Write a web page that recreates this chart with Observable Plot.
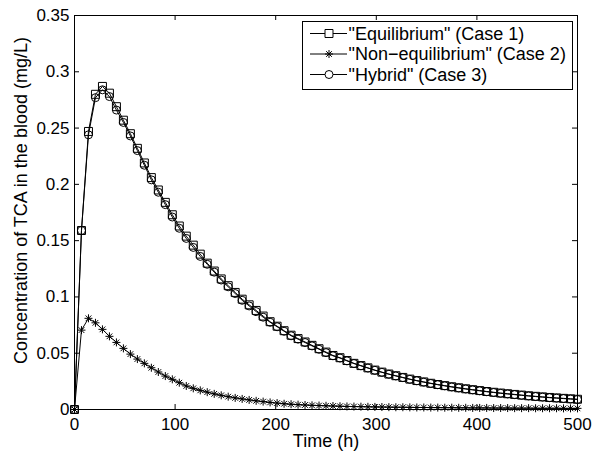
<!DOCTYPE html>
<html>
<head>
<meta charset="utf-8">
<script src="https://cdn.jsdelivr.net/npm/d3@7"></script>
<script src="https://cdn.jsdelivr.net/npm/@observablehq/plot@0.6"></script>
<style>
  html, body { margin: 0; padding: 0; background: #fff; }
  #chart svg { display: block; }
</style>
</head>
<body>
<div id="chart"></div>
<script>
// ---- Data ----
const times = [0, 6.94, 13.89, 20.83, 27.78, 34.72, 41.67, 48.61, 55.56, 62.5,
  69.44, 76.39, 83.33, 90.28, 97.22, 104.17, 111.11, 118.06, 125, 131.94,
  138.89, 145.83, 152.78, 159.72, 166.67, 173.61, 180.56, 187.5, 194.44, 201.39,
  208.33, 215.28, 222.22, 229.17, 236.11, 243.06, 250, 256.94, 263.89, 270.83,
  277.78, 284.72, 291.67, 298.61, 305.56, 312.5, 319.44, 326.39, 333.33, 340.28,
  347.22, 354.17, 361.11, 368.06, 375, 381.94, 388.89, 395.83, 402.78, 409.72,
  416.67, 423.61, 430.56, 437.5, 444.44, 451.39, 458.33, 465.28, 472.22, 479.17,
  486.11, 493.06, 500];

const equilibrium = [0, 0.159, 0.247, 0.280, 0.287, 0.281, 0.269, 0.257, 0.245, 0.232,
  0.219, 0.206, 0.195, 0.184, 0.173, 0.163, 0.154, 0.146, 0.138, 0.130,
  0.123, 0.116, 0.110, 0.104, 0.098, 0.093, 0.088, 0.083, 0.078, 0.074,
  0.070, 0.066, 0.063, 0.060, 0.057, 0.054, 0.051, 0.048, 0.046, 0.0435,
  0.041, 0.039, 0.037, 0.035, 0.0332, 0.0315, 0.030, 0.0285, 0.027, 0.0257,
  0.0245, 0.0233, 0.0222, 0.0212, 0.0202, 0.0193, 0.0184, 0.0176, 0.0168, 0.0160,
  0.0153, 0.0146, 0.0140, 0.0134, 0.0128, 0.0122, 0.0117, 0.0112, 0.0107, 0.0103,
  0.0099, 0.0095, 0.0091];

const nonEquilibrium = [0, 0.0705, 0.081, 0.077, 0.0712, 0.065, 0.0596, 0.0543, 0.0492, 0.0448,
  0.041, 0.0371, 0.0333, 0.0297, 0.0268, 0.0238, 0.0209, 0.0188, 0.0170, 0.0154,
  0.0139, 0.0126, 0.0114, 0.0103, 0.0094, 0.0085, 0.0077, 0.0070, 0.0063, 0.0057,
  0.0051, 0.0047, 0.0043, 0.0040, 0.0037, 0.0035, 0.0033, 0.0031, 0.0029, 0.0027,
  0.0026, 0.0025, 0.0024, 0.0023, 0.0022, 0.0021, 0.0020, 0.0020, 0.0019, 0.0018,
  0.0018, 0.0017, 0.0017, 0.0016, 0.0016, 0.0015, 0.0015, 0.0014, 0.0014, 0.0014,
  0.0013, 0.0013, 0.0013, 0.0012, 0.0012, 0.0012, 0.0011, 0.0011, 0.0011, 0.0011,
  0.0010, 0.0010, 0.0010];

const hybrid = [0, 0.159, 0.244, 0.277, 0.284, 0.278, 0.266, 0.255, 0.243, 0.230,
  0.217, 0.204, 0.193, 0.182, 0.171, 0.161, 0.152, 0.144, 0.136, 0.129,
  0.122, 0.115, 0.109, 0.103, 0.097, 0.092, 0.087, 0.082, 0.0775, 0.0735,
  0.0695, 0.0655, 0.0625, 0.0595, 0.0565, 0.0535, 0.0505, 0.0477, 0.0457, 0.0432,
  0.0408, 0.0388, 0.0368, 0.0348, 0.033, 0.0313, 0.0298, 0.0283, 0.0268, 0.0255,
  0.0243, 0.0231, 0.022, 0.021, 0.02, 0.0191, 0.0182, 0.0174, 0.0166, 0.0158,
  0.0151, 0.0144, 0.0138, 0.0132, 0.0126, 0.012, 0.0115, 0.011, 0.0105, 0.0101,
  0.0097, 0.0093, 0.0089];

const seriesNames = ['"Equilibrium" (Case 1)', '"Non\u2212equilibrium" (Case 2)', '"Hybrid" (Case 3)'];
const xTicks = [0, 100, 200, 300, 400, 500];
const yTicks = [0, 0.05, 0.1, 0.15, 0.2, 0.25, 0.3, 0.35];
const xLabel = "Time (h)";
const yLabel = "Concentration of TCA in the blood (mg/L)";

// ---- Build tidy rows ----
const toRows = (vals) => times.map((t, i) => ({t, v: vals[i]}));
const eqRows = toRows(equilibrium);
const neRows = toRows(nonEquilibrium);
const hyRows = toRows(hybrid);

// MATLAB-style asterisk marker (8 arms)
const asterisk = {
  draw(ctx, size) {
    const r = Math.sqrt(size / Math.PI);
    const d = r * 0.707;
    ctx.moveTo(-r, 0); ctx.lineTo(r, 0);
    ctx.moveTo(0, -r); ctx.lineTo(0, r);
    ctx.moveTo(-d, -d); ctx.lineTo(d, d);
    ctx.moveTo(-d, d); ctx.lineTo(d, -d);
  }
};

const W = 593, H = 455;
const mL = 74, mR = 16, mT = 15, mB = 46;
const plotW = W - mL - mR, plotH = H - mT - mB;
const tick = 5;
const FONT = "'Liberation Sans', Arial, Helvetica, sans-serif";

const lineStyle = {x: "t", y: "v", stroke: "black", strokeWidth: 1};
const dotStyle = {x: "t", y: "v", stroke: "black", strokeWidth: 1, fill: "none"};

const chart = Plot.plot({
  width: W, height: H,
  marginLeft: mL, marginRight: mR, marginTop: mT, marginBottom: mB,
  style: {fontFamily: FONT, fontSize: "17px", color: "black", background: "white"},
  x: {domain: [0, 500]},
  y: {domain: [0, 0.35]},
  marks: [
    Plot.axisX({ticks: xTicks, tickSize: 0, tickPadding: 8, label: null, tickFormat: d => String(d)}),
    Plot.axisY({ticks: yTicks, tickSize: 0, tickPadding: 5, label: null, tickFormat: d => String(d)}),
    // inward ticks, bottom/top/left/right
    Plot.tickX(xTicks, {x: d => d, stroke: "black", insetTop: plotH - tick}),
    Plot.tickX(xTicks, {x: d => d, stroke: "black", insetBottom: plotH - tick}),
    Plot.tickY(yTicks, {y: d => d, stroke: "black", insetRight: plotW - tick}),
    Plot.tickY(yTicks, {y: d => d, stroke: "black", insetLeft: plotW - tick}),
    // series
    Plot.line(eqRows, lineStyle),
    Plot.dot(eqRows, {...dotStyle, symbol: "square", r: 4.5}),
    Plot.line(neRows, lineStyle),
    Plot.dot(neRows, {...dotStyle, symbol: asterisk, r: 4}),
    Plot.line(hyRows, lineStyle),
    Plot.dot(hyRows, {...dotStyle, symbol: "circle", r: 4}),
    Plot.frame({stroke: "black", strokeWidth: 1}),
    // axis titles
    Plot.text([xLabel], {text: d => d, frameAnchor: "bottom", textAnchor: "middle", lineAnchor: "middle", dy: 32, fill: "black", fontSize: 18}),
    Plot.text([yLabel], {text: d => d, frameAnchor: "left", textAnchor: "middle", lineAnchor: "middle", dx: -53, dy: -12, rotate: -90, fill: "black", fontSize: 18})
  ]
});

document.getElementById("chart").appendChild(chart);

// ---- Legend (inside the axes, top-right, MATLAB style) ----
const svg = d3.select(chart);
const lg = svg.append("g").attr("font-family", FONT).attr("font-size", 18).attr("text-anchor", "start");
const box = {x: 302.5, y: 21.5, w: 270, h: 68};
lg.append("rect").attr("x", box.x).attr("y", box.y).attr("width", box.w).attr("height", box.h)
  .attr("fill", "white").attr("stroke", "black").attr("stroke-width", 1);
const symbols = [d3.symbol(d3.symbolSquare, Math.PI * 4.5 * 4.5), d3.symbol(asterisk, Math.PI * 16), d3.symbol(d3.symbolCircle, Math.PI * 16)];
seriesNames.forEach((name, i) => {
  const cy = box.y + 12 + i * 20.5;
  lg.append("line").attr("x1", 310).attr("x2", 347).attr("y1", cy).attr("y2", cy).attr("stroke", "black");
  lg.append("path").attr("d", symbols[i]()).attr("transform", `translate(329,${cy})`)
    .attr("fill", i === 1 ? "none" : "white").attr("stroke", "black");
  lg.append("text").attr("x", 348.5).attr("y", cy).attr("dy", "0.35em").attr("text-anchor", "start")
    .attr("fill", "black").text(name);
});
</script>
</body>
</html>
